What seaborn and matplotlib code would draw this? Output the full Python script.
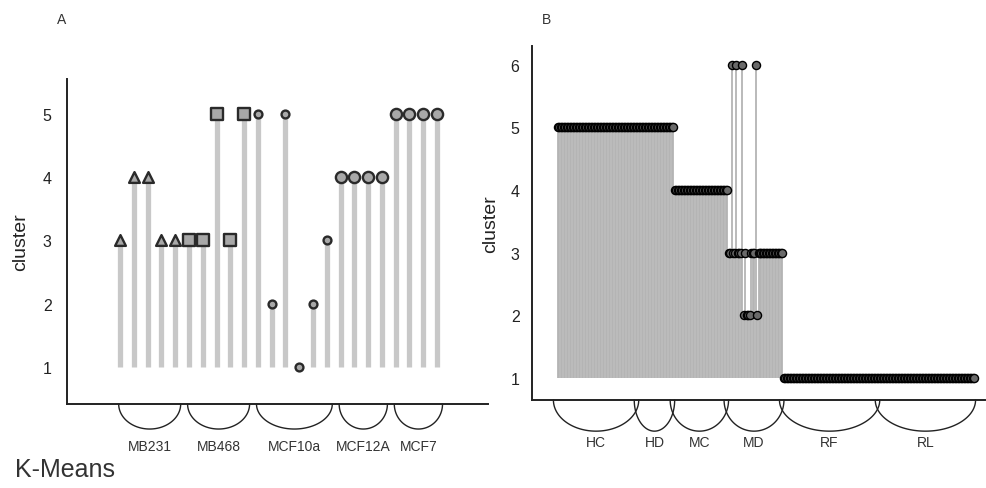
import numpy as np
import pandas as pd
import matplotlib.pyplot as plt
import seaborn as sns

# Panel A: k-means cluster of each cell-line sample
a_groups = ['MB231', 'MB468', 'MCF10a', 'MCF12A', 'MCF7']
a_counts = [5, 5, 6, 4, 4]
a_cluster = [3, 4, 4, 3, 3,
             3, 3, 5, 3, 5,
             5, 2, 5, 1, 2, 3,
             4, 4, 4, 4,
             5, 5, 5, 5]
a_yticks = [1, 2, 3, 4, 5]

# Panel B: cluster of each sample per condition
b_groups = ['HC', 'HD', 'MC', 'MD', 'RF', 'RL']
b_hc = [5] * 54
b_hd = [5] * 24
b_mc = [4] * 36
b_md = [3, 3, 6, 3, 3, 6, 3, 3, 3, 6, 2, 3, 2, 2, 2, 3, 3, 3, 6, 2] + [3] * 17
b_rf = [1] * 64
b_rl = [1] * 64
b_yticks = [1, 2, 3, 4, 5, 6]

sns.set_style('white')
plt.rcParams['font.family'] = ['Liberation Sans', 'DejaVu Sans']

df_a = pd.DataFrame({
    'sample': np.arange(len(a_cluster)),
    'cluster': a_cluster,
    'group': np.repeat(a_groups, a_counts),
})
b_vals = [b_hc, b_hd, b_mc, b_md, b_rf, b_rl]
df_b = pd.DataFrame({
    'sample': np.arange(sum(len(v) for v in b_vals)),
    'cluster': np.concatenate(b_vals),
    'group': np.repeat(b_groups, [len(v) for v in b_vals]),
})

W, H = 986, 489
fig = plt.figure(figsize=(W / 100, H / 100), dpi=100)
axA = fig.add_axes([67 / W, 1 - 405 / H, (488 - 67) / W, (405 - 80) / H])
axB = fig.add_axes([532 / W, 1 - 401 / H, (985 - 532) / W, (401 - 47) / H])


def bracket(ax, x0, x1, depth, label, label_y):
    t = np.linspace(0, np.pi, 80)
    xs = (x0 + x1) / 2 + (x1 - x0) / 2 * np.cos(t)
    ys = -depth * np.sin(t)
    ax.plot(xs, ys, transform=ax.get_xaxis_transform(), color='#222222',
            lw=1.0, clip_on=False)
    ax.text((x0 + x1) / 2, label_y, label, transform=ax.get_xaxis_transform(),
            ha='center', va='center', fontsize=10, color='#333333')


def style_axis(ax, ylim, yticks, pad):
    ax.set_ylim(*ylim)
    ax.set_yticks(yticks)
    ax.set_yticks(list(ylim), minor=True)
    ax.tick_params(axis='y', which='major', length=0, pad=pad, labelsize=11.5,
                   labelcolor='#222222')
    ax.tick_params(axis='y', which='minor', length=5, width=1.3, direction='out',
                   color='#222222')
    ax.set_xticks([])
    for s in ['top', 'right']:
        ax.spines[s].set_visible(False)
    for s in ['left', 'bottom']:
        ax.spines[s].set_linewidth(1.4)
        ax.spines[s].set_color('#222222')
    ax.set_xlabel('')


# ---- Panel A ----
axA.vlines(df_a['sample'], 1, df_a['cluster'], color='#c8c8c8', lw=3.8, zorder=1)
a_markers = {'MB231': ('^', 60), 'MB468': ('s', 65), 'MCF10a': ('o', 32),
             'MCF12A': ('o', 65), 'MCF7': ('o', 65)}
for g in a_groups:
    m, s = a_markers[g]
    sns.scatterplot(data=df_a[df_a['group'] == g], x='sample', y='cluster',
                    marker=m, s=s, color='#a8a8a8', edgecolor='#2a2a2a',
                    linewidth=1.7, ax=axA, zorder=3)
axA.set_xlim(-3.85, 26.7)
style_axis(axA, (0.415, 5.55), a_yticks, 11)
axA.set_ylabel('cluster', fontsize=14, labelpad=10, color='#222222')
start = 0
for g, n in zip(a_groups, a_counts):
    bracket(axA, start - 0.1, start + n - 1 + 0.4, 0.077, g, -0.13)
    start += n
fig.text(15 / W, 1 - 470 / H, 'K-Means', fontsize=18, va='center', ha='left',
         color='#333333')
fig.text(57 / W, 1 - 20 / H, 'A', fontsize=10, va='center', color='#333333')

# ---- Panel B ----
axB.vlines(df_b['sample'], 1, df_b['cluster'], color='#b4b4b4', lw=1.3, zorder=1)
sns.scatterplot(data=df_b, x='sample', y='cluster', marker='o', s=34,
                color='#6a6a6a', edgecolor='black', linewidth=1.0, ax=axB,
                zorder=3)
axB.set_xlim(-17.3, 285.3)
style_axis(axB, (0.65, 6.3), b_yticks, 9)
axB.set_ylabel('cluster', fontsize=14, labelpad=8, color='#222222')
start = 0
for g, v in zip(b_groups, b_vals):
    bracket(axB, start - 3, start + len(v) - 1 + 1, 0.088, g, -0.118)
    start += len(v)
fig.text(542 / W, 1 - 20 / H, 'B', fontsize=10, va='center', color='#333333')

fig.savefig('out.png', dpi=100)
